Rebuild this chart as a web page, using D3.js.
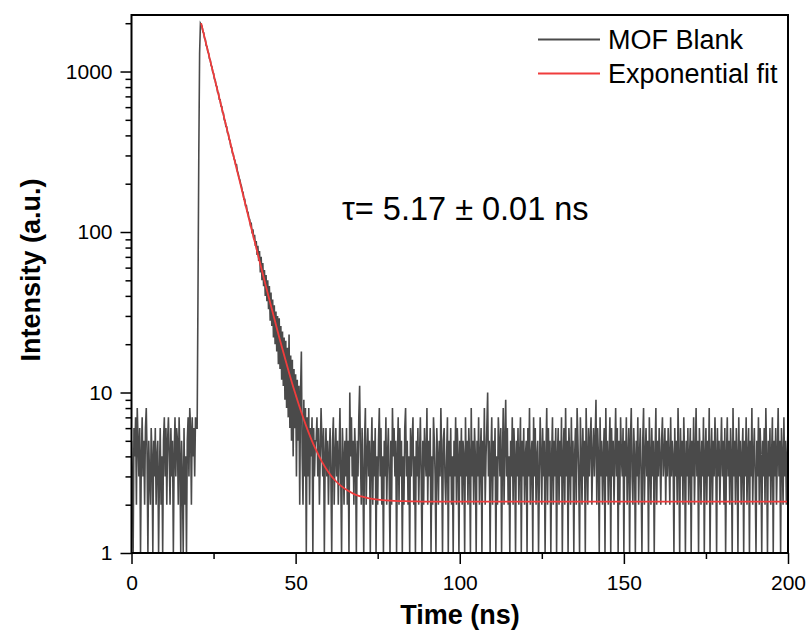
<!DOCTYPE html>
<html>
<script src='https://d3js.org/d3.v7.min.js'></script>
<style>
body {margin: 0; background: white;}
text {font-family: 'Liberation Sans', Arial, sans-serif;}
.tick line {stroke: black; stroke-width: 1.5;}
.tick text {font-size: 21px; fill: black;}
</style>
<body onload='init()'>
<script>
// counts per 0.25 ns channel
var timeStep = 0.25;
var preRise = [5,3,1,6,4,7,2,8,5,3, 6,1,4,7,3,5,2,6,8,4,
               1,5,3,2,6,4,1,5,3,6, 2,4,5,1,3,6,2,4,1,5,
               7,3,6,2,5,7,4,2,6,3, 5,1,4,7,3,6,5,2,7,4,
               1,5,3,1,6,2,4,1,5,7, 3,8,6,2,7,4,6,3,7,6];
var rise = [6, 40, 300, 1300, 2000];
var decay = [1960,1910,1770,1740,1610,1580,1450,1430,1330,1300,1200,
             1180,1090,1070,990,975,900,885,820,805,740,
             735,670,668,610,605,555,550,500,495,455,
             452,415,410,378,372,340,337,310,306,285,
             280,262,262,240,232,218,212,200,192,180,
             176,160,160,146,146,134,133,122,120,110,
             112,98,104,90,96,82,88,72,82,66,
             76,56,70,50,64,46,58,40,54,37,
             50,33,46,28,42,26,38,22,35,20,
             32,18,30,15,29,14,26,12,24,11,
             22,9,21,8,19,7,23,6,17,5,
             16,4,14,6,13,3,12,5,11,2,
             10,18,4,2,9,3,8,1,7,3,
             8,2,6,4,7,1,6,3,5];
var baseline = [5,7,3,6,2,4,8,5,3,6,1,4,6,3,5,2,
  4,6,3,1,5,7,2,4,6,3, 5,2,4,8,3,1,6,4,2,5, 3,6,2,5,1,10,4,7,3,5, 2,6,4,1,5,3,7,11,4,2,
  6,3,1,5,8,2,4,6,3,5, 1,4,7,2,5,3,6,1,4,2, 5,8,3,6,2,4,1,5,3,7, 2,4,6,3,1,5,2,8,4,6,
  3,5,1,4,7,2,6,3,5,1, 4,2,6,8,3,5,2,4,1,6, 3,5,7,2,4,1,5,3,6,2, 4,7,3,1,5,2,6,4,3,8,
  2,5,3,6,1,4,2,7,5,3, 1,6,4,2,5,3,8,4,1,5, 6,3,2,4,7,1,5,3,6,2, 4,1,5,3,7,2,6,4,1,5,
  3,6,2,5,4,1,7,3,5,2, 6,4,1,8,3,5,2,6,4,1, 5,3,7,2,4,6,1,5,3,8, 2,4,6,10,3,5,1,4,7,2,
  5,3,6,1,4,2,7,5,3,6, 1,4,8,2,5,9,3,6,2,4, 1,5,3,7,2,6,4,1,5,3, 6,2,4,7,1,5,3,6,2,4,
  5,1,6,3,8,2,4,5,1,7, 3,6,2,4,5,1,3,7,4,2, 6,3,5,1,4,8,2,6,3,5, 1,4,7,2,5,3,6,1,4,6,
  2,5,3,7,1,4,6,2,8,3, 5,1,6,4,2,7,3,5,1,4, 6,2,8,5,3,1,7,4,2,6, 3,5,1,8,4,2,6,3,5,7,
  2,4,6,3,5,9,2,6,4,1, 7,3,5,2,4,6,1,8,3,5, 2,4,7,1,6,3,5,2,4,8, 3,6,1,5,2,7,4,3,6,1,
  5,3,7,2,4,6,1,5,8,3, 2,6,4,1,5,3,7,2,4,6, 3,1,5,8,2,4,6,3,5,1, 7,4,2,6,3,5,1,4,8,2,
  5,3,6,4,2,5,7,3,4,6, 2,5,3,6,4,2,7,3,5,4, 1,6,3,5,2,8,4,1,6,3, 5,2,7,4,1,5,3,6,2,4,
  6,1,5,3,7,2,4,8,3,5, 1,6,4,2,5,3,7,1,4,6, 2,5,3,8,1,4,6,2,5,3, 7,4,1,6,3,5,2,4,7,3,
  5,2,6,1,4,7,3,5,2,6, 4,1,8,3,5,2,6,4,1,7, 3,5,2,4,6,1,5,3,7,2, 4,6,1,5,3,8,2,4,6,3,
  1,5,3,7,2,6,4,1,5,3, 6,2,8,4,1,5,3,6,2,4, 7,1,5,3,6,2,4,8,3,5, 1,6,4,2,7,3,5,2,4,6];

var fitTime = [21.2,22,23,24,25,26,27,28,29,30,31,32,33,34,35,36,37,38,39,40,
               41,42,43,44,45,46,47,48,49,50,51,52,53,54,55,56,58,60,62,64,
               66,68,70,72,75,80,85,90,100,120,150,200];
var fitValue = [2002,1715,1414,1165,961,792,653,539,444,366,302,249,206,170,140,116,96.2,79.7,66.0,54.8,
                45.5,37.9,31.6,26.4,22.1,18.6,15.7,13.3,11.3,9.70,8.36,7.26,6.35,5.60,4.98,4.48,3.71,3.19,2.84,2.60,
                2.44,2.32,2.25,2.20,2.15,2.11,2.10,2.09,2.09,2.09,2.09,2.09];

var yMajor = [1, 10, 100, 1000];
var yMinor = [2,3,4,5,6,7,8,9,20,30,40,50,60,70,80,90,200,300,400,500,600,700,800,900,2000];
var xMajor = [0, 50, 100, 150, 200];
var xMinor = [25, 75, 125, 175];
var legendNames = ['MOF Blank', 'Exponential fit'];
var legendColors = ['#4a4a4a', '#f03c3c'];

function init() {

var counts = preRise.concat(rise, decay, baseline);
var data = counts.map(function(c, i){ return {t: i * timeStep, v: c}; });
var fit = fitTime.map(function(t, i){ return {t: t, v: fitValue[i]}; });

var x = d3.scaleLinear().domain([0,200]).range([131.5,788]);
var y = d3.scaleLog().domain([1,2250]).range([553,15]);

var svg = d3.select('body')
.append('svg')
.attr('width', 811)
.attr('height', 642);

svg.append('clipPath')
.attr('id','plot')
.append('rect')
.attr('x',131.5).attr('y',15).attr('width',656.5).attr('height',538);

var line = d3.line()
.x(function(d){return x(d.t);})
.y(function(d){return y(d.v);});

svg.append('path')
.datum(data)
.attr('clip-path','url(#plot)')
.attr('fill','none')
.attr('stroke', legendColors[0])
.attr('stroke-width',1.6)
.attr('d', line);

svg.append('path')
.datum(fit)
.attr('clip-path','url(#plot)')
.attr('fill','none')
.attr('stroke', legendColors[1])
.attr('stroke-width',1.8)
.attr('d', line.curve(d3.curveMonotoneX));

// axes
svg.append('g')
.attr('transform','translate(131.5,0)')
.call(d3.axisLeft(y).tickValues(yMajor).tickFormat(d3.format('d')).tickSize(11).tickPadding(8))
.call(function(g){g.select('.domain').remove();});

svg.append('g')
.attr('transform','translate(131.5,0)')
.call(d3.axisLeft(y).tickValues(yMinor).tickFormat('').tickSize(6))
.call(function(g){g.select('.domain').remove();});

svg.append('g')
.attr('transform','translate(0,553)')
.call(d3.axisBottom(x).tickValues(xMajor).tickSize(11).tickPadding(11))
.call(function(g){g.select('.domain').remove();});

svg.append('g')
.attr('transform','translate(0,553)')
.call(d3.axisBottom(x).tickValues(xMinor).tickFormat('').tickSize(6))
.call(function(g){g.select('.domain').remove();});

svg.append('rect')
.attr('x',131.5).attr('y',15).attr('width',656.5).attr('height',538)
.attr('fill','none')
.attr('stroke','black')
.attr('stroke-width',2);

// axis titles
svg.append('text')
.attr('x', 460)
.attr('y', 624)
.style('text-anchor','middle')
.style('font-weight','bold')
.style('font-size','27px')
.text('Time (ns)');

svg.append('text')
.attr('transform','translate(40,270)rotate(-90)')
.style('text-anchor','middle')
.style('font-weight','bold')
.style('font-size','27px')
.text('Intensity (a.u.)');

// legend
var legend = svg.append('g')
.selectAll('g')
.data(legendNames)
.enter()
.append('g')
.attr('transform', function(d,i){return 'translate(538,' + (39.5 + i*34) + ')';});

legend.append('line')
.attr('x1',0).attr('x2',62)
.attr('stroke', function(d,i){return legendColors[i];})
.attr('stroke-width',1.8);

legend.append('text')
.attr('x',70)
.attr('y',9.5)
.style('font-size','27px')
.text(function(d){return d;});

// lifetime note
svg.append('text')
.attr('x', 342)
.attr('y', 220)
.style('font-size','32.5px')
.text('\u03C4= 5.17 \u00B1 0.01 ns');

}
</script>
</body>
</html>
